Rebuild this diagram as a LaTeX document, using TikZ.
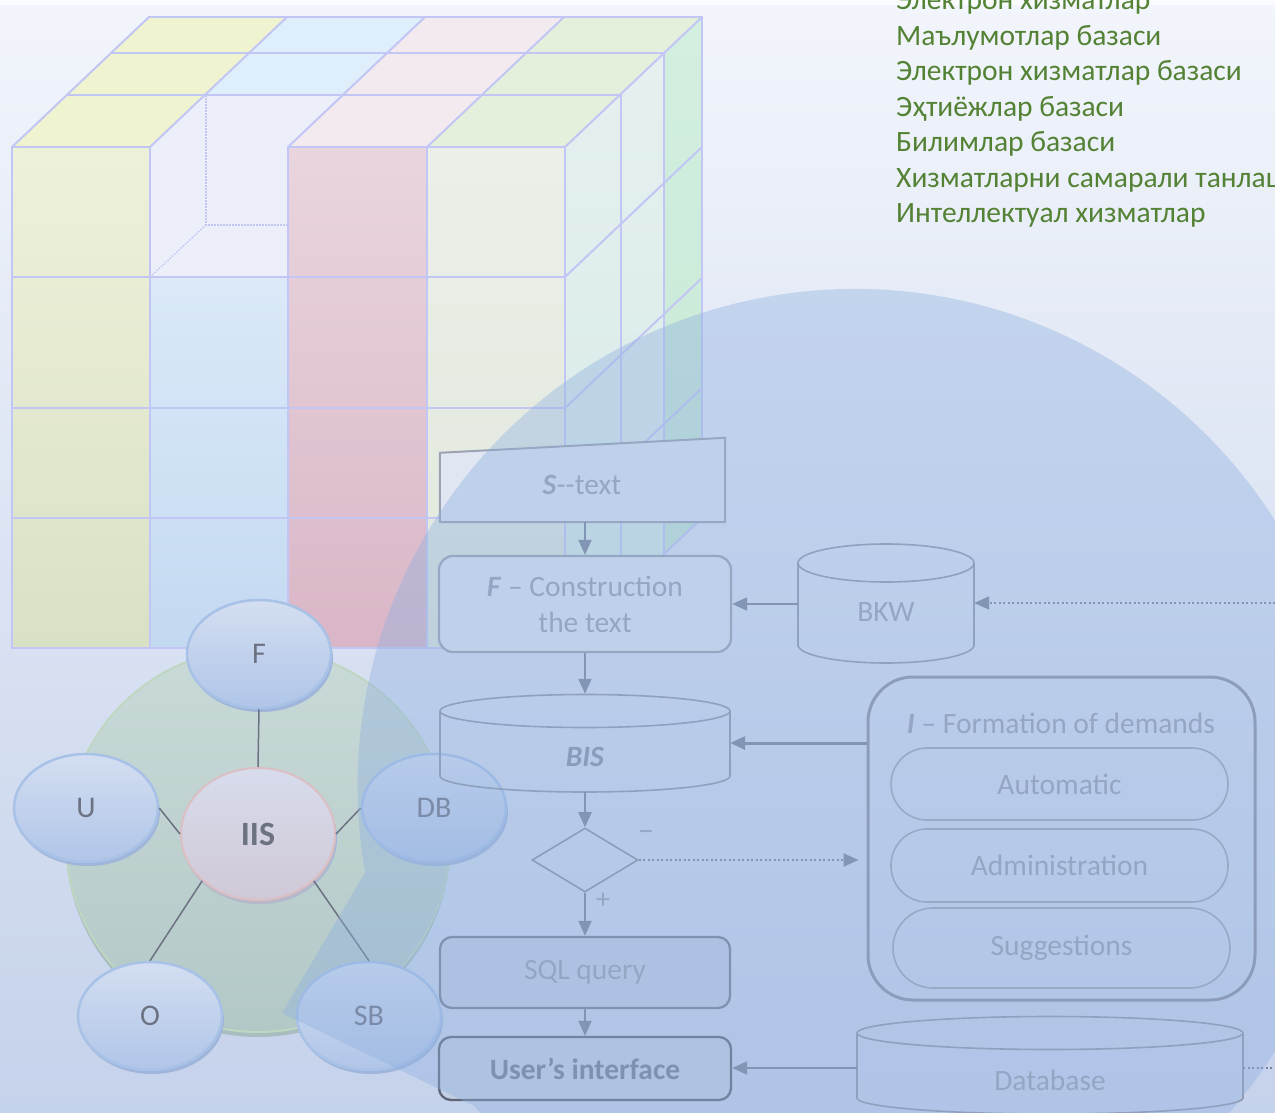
\documentclass[tikz,border=0pt]{standalone}
\usepackage{fontspec}
\setmainfont{Carlito}
\usetikzlibrary{arrows.meta,shapes.geometric,shadows,calc}

% background and overlay
\definecolor{bgtop}{HTML}{F2F5FB}
\definecolor{bgbot}{HTML}{C5D2EB}
\definecolor{ovc}{HTML}{8FB0E0}
% cube
\definecolor{cubeln}{HTML}{C2C6F4}
\definecolor{topy}{HTML}{EFF3D0}
\definecolor{topb}{HTML}{DFEEFB}
\definecolor{topp}{HTML}{F3EAF0}
\definecolor{topg}{HTML}{E5F0DC}
\definecolor{notch}{HTML}{ECEFFA}
\definecolor{fyt}{HTML}{EEF1DA}
\definecolor{fyb}{HTML}{D9E1C5}
\definecolor{fbt}{HTML}{DBE9F8}
\definecolor{fbb}{HTML}{C3D9F1}
\definecolor{fpt}{HTML}{E9D5DF}
\definecolor{fpb}{HTML}{D9B6C7}
\definecolor{fgt}{HTML}{EBEFE8}
\definecolor{fgb}{HTML}{E1E8DD}
\definecolor{rst}{HTML}{E6F0F1}
\definecolor{rsb}{HTML}{D6EBE6}
\definecolor{rgt}{HTML}{D3EFE0}
\definecolor{rgb}{HTML}{C6E8D4}
% pentagon diagram
\definecolor{pentt}{HTML}{D3DEF1}
\definecolor{pentb}{HTML}{B0C5E8}
\definecolor{pentln}{HTML}{A7C1E7}
\definecolor{pentsh}{HTML}{9FB5DA}
\definecolor{iist}{HTML}{D7DCEC}
\definecolor{iisb}{HTML}{D0C8D7}
\definecolor{iisln}{HTML}{DCBFC4}
\definecolor{iissh}{HTML}{B8B9C8}
\definecolor{pentxt}{HTML}{6C7282}
\definecolor{gct}{HTML}{C9DAD8}
\definecolor{gcb}{HTML}{B2C8C7}
\definecolor{gcln}{HTML}{BFD6C1}
\definecolor{gcsh}{HTML}{A9BDC0}
% flowchart
\definecolor{boxln}{HTML}{9CA2B2}
\definecolor{arrc}{HTML}{7B8398}
\definecolor{txtc}{HTML}{98A0B1}
\definecolor{boxfill}{HTML}{E0E6F2}
\definecolor{sqlfill}{HTML}{C1CFE4}
\definecolor{uifill}{HTML}{C3CEE2}
\definecolor{sqlln}{HTML}{767F93}
\definecolor{uiln}{HTML}{5D6577}
\definecolor{uitxt}{HTML}{737D91}
\definecolor{bistxt}{HTML}{858FA3}
\definecolor{cylln}{HTML}{8F97A8}
\definecolor{iboxln}{HTML}{8991A2}
\definecolor{pillln}{HTML}{9DA5B4}
\definecolor{dialn}{HTML}{8A91A2}
\definecolor{gtxt}{HTML}{548235}

\newcommand\flf{\fontsize{29.5}{36}\selectfont}
\newcommand\pnf{\fontsize{30}{34}\selectfont}
\newcommand\gnf{\fontsize{29.5}{34}\selectfont}

\begin{document}
\begin{tikzpicture}[x=1pt,y=-1pt,
  cubeline/.style={draw=cubeln,line width=2pt,line cap=round,line join=round},
  hiddenln/.style={draw=cubeln,line width=1.4pt,dash pattern=on 1.5pt off 1.5pt},
  pent/.style={ellipse,draw=pentln,line width=2.5pt,top color=pentt,bottom color=pentb,
    minimum width=144pt,minimum height=108pt,inner sep=0pt,text=pentxt,font=\pnf,
    general shadow={fill=pentsh,shadow xshift=2pt,shadow yshift=-4pt}},
  pline/.style={draw=pentxt,line width=1.5pt},
  fcbox/.style={draw=boxln,line width=2.3pt,rounded corners=14pt,inner sep=0pt,
    align=center,text=txtc,font=\flf},
  ftxt/.style={text=txtc,font=\flf,inner sep=0pt},
  pill/.style={draw=pillln,line width=1.6pt,rounded corners=36pt,minimum width=337pt,
    inner sep=0pt,text=txtc,font=\flf},
  cylst/.style={draw=cylln,line width=1.6pt},
  arr/.style={draw=arrc,line width=2pt,-{Triangle[length=15pt,width=13pt]}},
  dotarr/.style={arr,dash pattern=on 2pt off 2.5pt},
  dotln/.style={draw=arrc,line width=2pt,dash pattern=on 2pt off 2.5pt},
  gline/.style={anchor=base west,text=gtxt,font=\gnf,inner sep=0pt}]

\useasboundingbox (0,0) rectangle (1275,1112);
\shade[top color=bgtop,bottom color=bgbot] (0,0) rectangle (1275,1112);
\fill[white,opacity=.6] (0,0) rectangle (1275,5);

% ---------------- cube ----------------
% top faces
\fill[topy] (12,147) -- (150,147) -- (287,17) -- (149,17) -- cycle;
\fill[topb] (206,95) -- (344,95) -- (425,17) -- (287,17) -- cycle;
\fill[topp] (288,147) -- (427,147) -- (564,17) -- (425,17) -- cycle;
\fill[topg] (427,147) -- (565,147) -- (702,17) -- (564,17) -- cycle;
% open cell
\fill[notch] (150,147) -- (206,95) -- (344,95) -- (288,147) -- (288,277) -- (150,277) -- cycle;
% front faces
\shade[top color=fyt,bottom color=fyb] (12,147) rectangle (150,648);
\shade[top color=fbt,bottom color=fbb] (150,277) rectangle (288,648);
\shade[top color=fpt,bottom color=fpb] (288,147) rectangle (427,648);
\shade[top color=fgt,bottom color=fgb] (427,147) rectangle (565,648);
% right face
\shade[top color=rst,bottom color=rsb] (565,147) -- (702,17) -- (702,518) -- (565,648) -- cycle;
\shade[top color=rgt,bottom color=rgb] (664,53) -- (702,17) -- (702,518) -- (664,554) -- cycle;
% hidden edges of the open cell
\draw[hiddenln] (206,95) -- (206,225) -- (288,225);
\draw[hiddenln] (206,225) -- (150,277);
% grid lines: front
\foreach \gx in {12,150,288,427,565} \draw[cubeline] (\gx,147) -- (\gx,648);
\draw[cubeline] (12,147) -- (150,147);
\draw[cubeline] (288,147) -- (565,147);
\foreach \gy in {277,408,518,648} \draw[cubeline] (12,\gy) -- (565,\gy);
% grid lines: top
\draw[cubeline] (68,95) -- (621,95);
\draw[cubeline] (111,53) -- (664,53);
\draw[cubeline] (149,17) -- (702,17);
\draw[cubeline] (12,147) -- (149,17);
\draw[cubeline] (150,147) -- (287,17);
\draw[cubeline] (288,147) -- (425,17);
\draw[cubeline] (427,147) -- (564,17);
\draw[cubeline] (565,147) -- (702,17);
% grid lines: right
\draw[cubeline] (621,95) -- (621,596);
\draw[cubeline] (664,53) -- (664,554);
\draw[cubeline] (702,17) -- (702,518);
\foreach \gy in {277,408,518,648} \draw[cubeline] (565,\gy) -- (702,\gy-130);

% ---------------- IIS structure ----------------
\fill[gcsh] (258,845) circle[radius=192pt];
\shade[top color=gct,bottom color=gcb] (258,840) circle[radius=192pt];
\draw[gcln,line width=2pt] (258,840) circle[radius=192pt];

\node[pent] (nf) at (259,654) {F};
\node[pent] (nu) at (86,808) {U};
\node[pent] (ndb) at (434,808) {DB};
\node[pent] (no) at (150,1016) {O};
\node[pent] (nsb) at (369,1016) {SB};
\node[pent,draw=iisln,line width=2pt,top color=iist,bottom color=iisb,
  minimum width=154pt,minimum height=132pt,font=\fontsize{34}{38}\selectfont\bfseries,
  general shadow={fill=iissh,shadow xshift=1pt,shadow yshift=-4pt}] (niis) at (258,834) {IIS};

\draw[pline] (nf.south) -- (niis.north);
\draw[pline] (nu.east) -- (niis.west);
\draw[pline] (ndb.west) -- (niis.east);
\draw[pline] (no.north) -- (niis.220);
\draw[pline] (nsb.north) -- (niis.-40);

% ---------------- flowchart ----------------
% S -- text (manual input shape)
\node[inner sep=0pt,minimum width=285pt,minimum height=69pt] (s) at (582.5,487.5) {};
\filldraw[draw=boxln,fill=boxfill,line width=2pt,line join=round]
  (s.south west) -- (s.south east) -- ([yshift=15pt]s.north east) -- (s.north west) -- cycle;
\node[ftxt] (st) at (582,485) {\textbf{\textit{S}}-\kern0pt-text};

\node[fcbox,fill=boxfill,minimum width=292pt,minimum height=96pt] (f) at (585,604)
  {\textbf{\textit{F}} – Construction\\the text};

% BIS cylinder
\node[inner sep=0pt,minimum width=290pt,minimum height=98pt] (bis) at (585,743) {};
\draw[cylst] (440,711) -- (440,776) arc[start angle=180,end angle=360,x radius=145pt,y radius=16pt] -- (730,711);
\draw[cylst] (585,711) ellipse[x radius=145pt,y radius=16.5pt];
\node[ftxt,text=bistxt] (bist) at (585,757) {\textbf{\textit{BIS}}};

\node[diamond,draw=dialn,line width=1.6pt,minimum width=106pt,minimum height=64pt,inner sep=0pt] (dia) at (585,860) {};
\node[ftxt,font=\fontsize{32}{36}\selectfont] (mn) at (646,836) {–};
\node[ftxt,font=\fontsize{28}{32}\selectfont] (pl) at (603,901) {+};

\node[fcbox,draw=sqlln,fill=sqlfill,rounded corners=12pt,minimum width=290pt,minimum height=71pt] (sql) at (585,972.5) {SQL query};
\node[fcbox,draw=uiln,fill=uifill,text=uitxt,rounded corners=12pt,minimum width=292pt,minimum height=63pt] (ui) at (585,1068.5) {\textbf{User’s interface}};

% BKW cylinder
\node[inner sep=0pt,minimum width=176pt,minimum height=119pt] (bkw) at (886,603.5) {};
\draw[cylst] (798,563) -- (798,645) arc[start angle=180,end angle=360,x radius=88pt,y radius=18pt] -- (974,563);
\draw[cylst] (886,563) ellipse[x radius=88pt,y radius=19pt];
\node[ftxt] (bkwt) at (886,612) {BKW};

% I -- formation of demands
\node[draw=iboxln,line width=3pt,rounded corners=45pt,minimum width=387pt,minimum height=323pt] (ibox) at (1061.5,838.5) {};
\node[ftxt] (ibt) at (1061,723) {\textbf{\textit{I}} – Formation of demands};
\node[pill,minimum height=72pt] (auto) at (1059.5,784) {Automatic};
\node[pill,minimum height=73pt] (adm) at (1059.5,865.5) {Administration};
\node[pill,minimum height=80pt,rounded corners=40pt] (sugg) at (1061.5,948) {Suggestions};

% Database cylinder
\node[inner sep=0pt,minimum width=386pt,minimum height=96pt] (db) at (1050,1065) {};
\draw[cylst] (857,1033) -- (857,1098) arc[start angle=180,end angle=360,x radius=193pt,y radius=16pt] -- (1243,1033);
\draw[cylst] (1050,1033) ellipse[x radius=193pt,y radius=16.5pt];
\node[ftxt] (dbt) at (1050,1080) {Database};

\coordinate (rin) at (1275,603);
\coordinate (rout) at (1275,1068);

% connectors
\draw[arr] (f.north |- s.south) -- (f.north);
\draw[arr] (f.south) -- (bis.north);
\draw[arr] (bis.south) -- (dia.north);
\draw[arr] (dia.south) -- (sql.north);
\draw[arr] (sql.south) -- (ui.north);
\draw[arr] (bkw.west |- f.east) -- (f.east);
\draw[dotarr] (rin) -- (bkw.east |- rin);
\draw[arr,line width=3pt] (ibox.west |- bis.east) -- (bis.east);
\draw[dotarr,shorten >=8pt] (dia.east) -- (ibox.west |- dia.east);
\draw[arr] (db.west |- rout) -- (ui.east |- rout);
\draw[dotln] (db.east |- rout) -- (rout);

% ---------------- translucent callout ----------------
\fill[ovc,fill opacity=.4] (365.2,872.3) arc[start angle=190,end angle=-139.92,radius=497pt] -- (282,1013) -- cycle;

% ---------------- list ----------------
\node[gline] (g1) at (896,9.5) {Электрон хизматлар};
\node[gline] (g2) at (896,45) {Маълумотлар базаси};
\node[gline] (g3) at (896,80.5) {Электрон хизматлар базаси};
\node[gline] (g4) at (896,116) {Эҳтиёжлар базаси};
\node[gline] (g5) at (896,151.5) {Билимлар базаси};
\node[gline] (g6) at (896,187) {Хизматларни самарали танлаш};
\node[gline] (g7) at (896,222.5) {Интеллектуал хизматлар};
\end{tikzpicture}
\end{document}
